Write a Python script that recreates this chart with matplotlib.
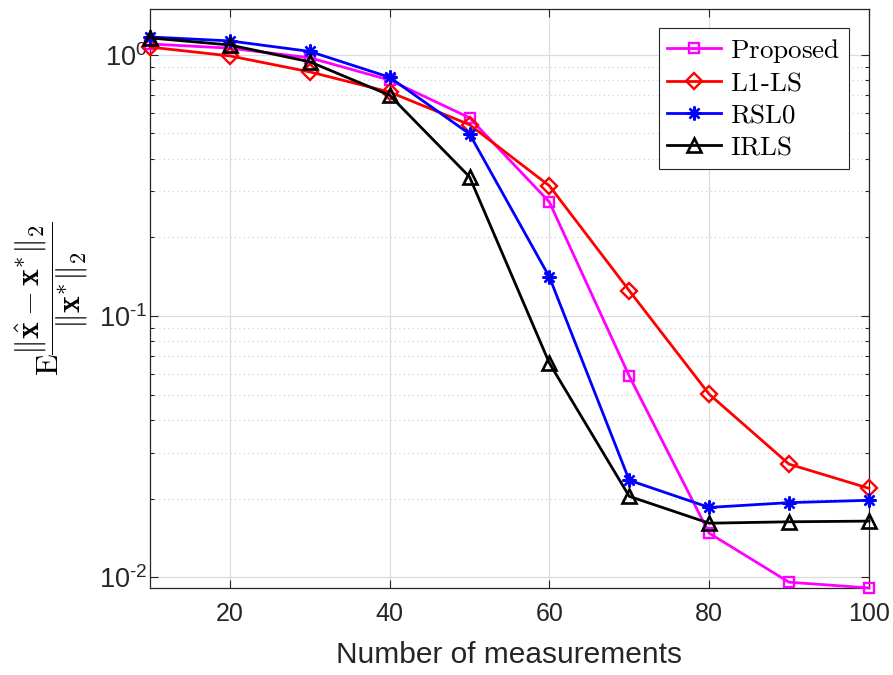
import matplotlib
matplotlib.use("Agg")
import matplotlib.pyplot as plt
from matplotlib.ticker import LogLocator, NullFormatter, FuncFormatter
import numpy as np

# Datos
medidas = [10, 20, 30, 40, 50, 60, 70, 80, 90, 100]
proposed = [1.10, 1.06, 0.974, 0.80, 0.574, 0.273, 0.0589, 0.01475, 0.00957, 0.0091]
l1_ls = [1.07, 0.99, 0.86, 0.72, 0.54, 0.315, 0.125, 0.0502, 0.0271, 0.0219]
rsl0 = [1.17, 1.13, 1.03, 0.82, 0.498, 0.141, 0.0235, 0.0185, 0.0193, 0.0197]
irls = [1.16, 1.09, 0.94, 0.70, 0.341, 0.066, 0.0204, 0.0161, 0.0163, 0.0164]

plt.rcParams['font.family'] = ['Liberation Sans', 'DejaVu Sans']
plt.rcParams['mathtext.fontset'] = 'custom'
plt.rcParams['mathtext.rm'] = 'Liberation Sans'
plt.rcParams['mathtext.it'] = 'Liberation Sans:italic'
plt.rcParams['mathtext.bf'] = 'Liberation Sans:bold'

fig = plt.figure(figsize=(8.93, 6.75), dpi=100)
ax = fig.add_axes([0.168, 0.129, 0.805, 0.858])

estilo = dict(lw=2.0, mfc='none', clip_on=False, zorder=3)
ax.plot(medidas, proposed, color='#ff00ff', marker='s', ms=7.5, mew=1.7,
        label=r'$\mathrm{Proposed}$', **estilo)
ax.plot(medidas, l1_ls, color='#ff0000', marker='D', ms=8, mew=1.7,
        label=r'$\mathrm{L1\text{-}LS}$', **estilo)
ax.plot(medidas, rsl0, color='#0000ff', marker=(8, 2, 0), ms=10, mew=1.7,
        label=r'$\mathrm{RSL0}$', **estilo)
ax.plot(medidas, irls, color='black', marker='^', ms=10, mew=1.9,
        label=r'$\mathrm{IRLS}$', **estilo)

def etiqueta_log(v, pos):
    e = int(round(np.log10(v)))
    if e < 0:
        return r'$\mathregular{10^{\text{-}%d}}$' % (-e)
    return r'$\mathregular{10^{%d}}$' % e

ax.set_yscale('log')
ax.set_xlim(10, 100)
ax.set_ylim(0.0091, 1.5)
ax.set_xticks([20, 40, 60, 80, 100])
ax.set_yticks([0.01, 0.1, 1])
ax.yaxis.set_major_formatter(FuncFormatter(etiqueta_log))
ax.yaxis.set_minor_locator(LogLocator(base=10, subs=range(2, 10)))
ax.yaxis.set_minor_formatter(NullFormatter())

ax.grid(True, which='major', color='#dddddd', lw=0.9)
ax.grid(True, which='minor', axis='y', color='#cccccc', lw=0.8, ls=(0, (1, 3)))
ax.set_axisbelow(True)

ax.tick_params(which='both', direction='in', top=True, right=True,
               labelsize=18, colors='#262626', width=0.8)
ax.tick_params(which='major', length=6)
ax.tick_params(which='minor', length=3)
ax.tick_params(axis='x', pad=10)
ax.tick_params(axis='y', pad=2, labelsize=19.5)
for s in ax.spines.values():
    s.set_color('#262626')
    s.set_linewidth(0.9)

ax.set_xlabel('Number of measurements', fontsize=21.5, color='#262626', labelpad=11)
yl = ax.set_ylabel(r'$\mathrm{E}\dfrac{\|\hat{\mathbf{x}}-\mathbf{x}^{*}\|_2}{\|\mathbf{x}^{*}\|_2}$',
                   fontsize=23, color='black', labelpad=6)
yl.set_math_fontfamily('cm')

leg = ax.legend(loc='upper right', bbox_to_anchor=(0.972, 0.966), fontsize=19.5,
                fancybox=False, edgecolor='#262626', framealpha=1,
                handlelength=2.0, borderpad=0.3, labelspacing=0.22,
                handletextpad=0.35, borderaxespad=0)
leg.get_frame().set_linewidth(0.8)
for t in leg.get_texts():
    t.set_math_fontfamily('cm')

fig.savefig('out.png', dpi=100)
